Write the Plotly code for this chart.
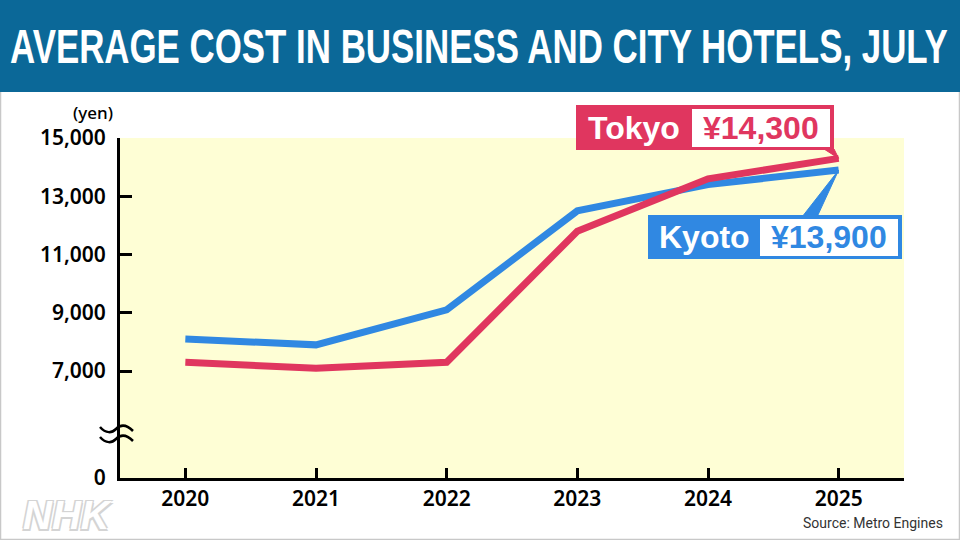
import json
import plotly.graph_objects as go

# ---------------- data ----------------
years = [2020, 2021, 2022, 2023, 2024, 2025]
tokyo = [7300, 7100, 7300, 11800, 13600, 14300]
kyoto = [8100, 7900, 9100, 12500, 13400, 13900]
city_names = ["Tokyo", "Kyoto"]
y_tick_values = [0, 7000, 9000, 11000, 13000, 15000]
y_tick_labels = ["0", "7,000", "9,000", "11,000", "13,000", "15,000"]
title_text = "AVERAGE COST IN BUSINESS AND CITY HOTELS, JULY"
unit_text = "(yen)"
source_text = "Source: Metro Engines"

# ---------------- layout constants ----------------
W, H = 960, 540
L, R, T, B = 120, 904, 138, 478
ZERO_POS = 3330          # axis position used for the broken-axis "0"
Y_MAX = 15000
X_RANGE = [2019.5, 2025.5]
TITLE_WIDTH = 938

RED = "#e0365f"
BLUE = "#3088e2"
BANNER = "#0b6898"
BG = "#fefed5"


def fx(px):
    return (px - L) / (R - L)


def fy(py):
    return (B - py) / (B - T)


def dx(px):
    return X_RANGE[0] + (px - L) / (R - L) * (X_RANGE[1] - X_RANGE[0])


def dy(py):
    return Y_MAX - (py - T) / (B - T) * (Y_MAX - ZERO_POS)


tick_pos = [ZERO_POS if v == 0 else v for v in y_tick_values]

fig = go.Figure()
fig.add_trace(go.Scatter(x=years, y=kyoto, mode="lines", name=city_names[1],
                         line=dict(color=BLUE, width=7), hoverinfo="skip"))
fig.add_trace(go.Scatter(x=years, y=tokyo, mode="lines", name=city_names[0],
                         line=dict(color=RED, width=7), hoverinfo="skip"))

shapes = []
# page border
shapes.append(dict(type="rect", xref="paper", yref="paper", x0=fx(0.5), x1=fx(959.5),
                   y0=fy(539.5), y1=fy(0.5), line=dict(color="#c8c8c8", width=1.5),
                   fillcolor="rgba(0,0,0,0)", layer="below"))
# banner
shapes.append(dict(type="rect", xref="paper", yref="paper", x0=fx(0), x1=fx(960),
                   y0=fy(92), y1=fy(0), line=dict(width=0), fillcolor=BANNER, layer="above"))


# axis break: two waves
def wave(py0):
    return (f"M {fx(100)},{fy(py0)} C {fx(106)},{fy(py0+7)} {fx(112)},{fy(py0+6)} {fx(116)},{fy(py0+2)} "
            f"C {fx(121)},{fy(py0-3)} {fx(127)},{fy(py0-2)} {fx(133)},{fy(py0+4)}")


for p in (427, 437):
    shapes.append(dict(type="path", xref="paper", yref="paper", path=wave(p),
                       line=dict(color="black", width=2.5), layer="above"))

# Tokyo label
shapes.append(dict(type="path", xref="x", yref="y",
                   path=f"M {dx(824)},{dy(149)} L {dx(834)},{dy(149)} L {years[-1]},{tokyo[-1]} Z",
                   fillcolor=RED, line=dict(color=RED, width=1), layer="above"))
shapes.append(dict(type="rect", xref="paper", yref="paper", x0=fx(576), x1=fx(834),
                   y0=fy(150), y1=fy(105), fillcolor=RED, line=dict(width=0), layer="above"))
shapes.append(dict(type="rect", xref="paper", yref="paper", x0=fx(692), x1=fx(830),
                   y0=fy(147), y1=fy(109), fillcolor="white", line=dict(width=0), layer="above"))
# Kyoto label
shapes.append(dict(type="path", xref="x", yref="y",
                   path=f"M {dx(802)},{dy(217)} L {dx(817)},{dy(217)} L {years[-1]},{kyoto[-1]} Z",
                   fillcolor=BLUE, line=dict(color=BLUE, width=1), layer="above"))
shapes.append(dict(type="rect", xref="paper", yref="paper", x0=fx(648), x1=fx(902),
                   y0=fy(259), y1=fy(215), fillcolor=BLUE, line=dict(width=0), layer="above"))
shapes.append(dict(type="rect", xref="paper", yref="paper", x0=fx(760), x1=fx(898),
                   y0=fy(256), y1=fy(219), fillcolor="white", line=dict(width=0), layer="above"))

LABEL_FONT = "Liberation Sans, Arial"
annotations = [
    dict(text=title_text, xref="paper", yref="paper", x=fx(479), y=fy(46),
         xanchor="center", yanchor="middle", showarrow=False,
         font=dict(family="Liberation Sans, Arial", size=49, color="white", weight="bold")),
    dict(text=city_names[0], xref="paper", yref="paper", x=fx(634), y=fy(128),
         xanchor="center", yanchor="middle", showarrow=False,
         font=dict(family=LABEL_FONT, size=32, color="white", weight="bold")),
    dict(text=f"¥{tokyo[-1]:,}", xref="paper", yref="paper", x=fx(761), y=fy(128),
         xanchor="center", yanchor="middle", showarrow=False,
         font=dict(family=LABEL_FONT, size=32, color=RED, weight="bold")),
    dict(text=city_names[1], xref="paper", yref="paper", x=fx(704), y=fy(237),
         xanchor="center", yanchor="middle", showarrow=False,
         font=dict(family=LABEL_FONT, size=32, color="white", weight="bold")),
    dict(text=f"¥{kyoto[-1]:,}", xref="paper", yref="paper", x=fx(829), y=fy(237),
         xanchor="center", yanchor="middle", showarrow=False,
         font=dict(family=LABEL_FONT, size=32, color=BLUE, weight="bold")),
    dict(text=unit_text, xref="paper", yref="paper", x=fx(93), y=fy(112),
         xanchor="center", yanchor="middle", showarrow=False,
         font=dict(family="Noto Sans", size=17, color="black", weight=500)),
    dict(text=source_text, xref="paper", yref="paper", x=fx(945), y=fy(523),
         xanchor="right", yanchor="middle", showarrow=False,
         font=dict(family="Roboto", size=14, color="#333333")),
    dict(text="NHK", xref="paper", yref="paper", x=fx(68), y=fy(539),
         xanchor="center", yanchor="bottom", showarrow=False,
         font=dict(family="Liberation Sans", size=40, color="white", weight="bold", style="italic",
                   shadow="1.5px 1.5px 0 #d4d4d4, -1.5px -1.5px 0 #d4d4d4, 1.5px -1.5px 0 #d4d4d4, -1.5px 1.5px 0 #d4d4d4")),
]

fig.update_layout(
    width=W, height=H, autosize=False,
    margin=dict(l=L, r=W - R, t=T, b=H - B, pad=0),
    paper_bgcolor="white", plot_bgcolor=BG,
    showlegend=False,
    shapes=shapes, annotations=annotations,
    xaxis=dict(range=X_RANGE, tickvals=years, ticktext=[str(y) for y in years],
               showgrid=False, zeroline=False, showline=True, linecolor="black", linewidth=3,
               ticks="inside", ticklen=10, tickwidth=2.5, tickcolor="black",
               tickfont=dict(family="Noto Sans", size=21, color="black", weight=600)),
    yaxis=dict(range=[ZERO_POS, Y_MAX], tickvals=tick_pos, ticktext=y_tick_labels,
               showgrid=False, zeroline=False, showline=True, linecolor="black", linewidth=3,
               ticks="inside", ticklen=12, tickwidth=2.5, tickcolor="black", ticklabelstandoff=7,
               tickfont=dict(family="Noto Sans", size=21, color="black", weight=600)),
)

# condense the banner title horizontally (no condensed font installed)
post_js = """
(function(){
  var target = %s, width = %d;
  document.querySelectorAll('text.annotation-text').forEach(function(t){
    if (t.textContent === target) {
      var bb = t.getBBox();
      var s = width / bb.width;
      var cx = bb.x + bb.width / 2;
      var prev = t.getAttribute('transform') || '';
      t.setAttribute('transform', prev + ' translate(' + cx + ',0) scale(' + s + ',1) translate(' + (-cx) + ',0)');
    }
  });
})();
""" % (json.dumps(title_text), TITLE_WIDTH)

fig.write_html("out.html", post_script=post_js)
